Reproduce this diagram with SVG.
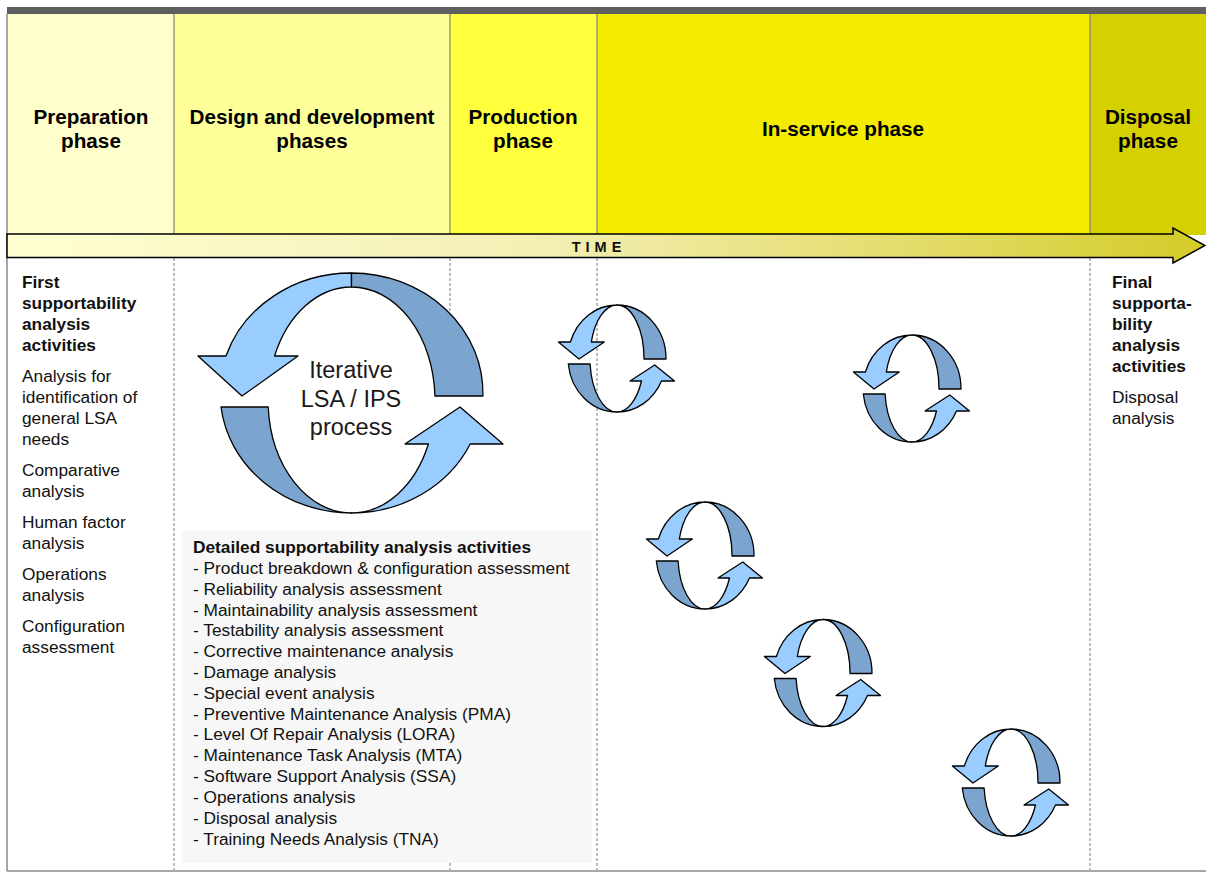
<svg xmlns="http://www.w3.org/2000/svg" width="1206" height="873" viewBox="0 0 1206 873">
  <defs>
    <linearGradient id="timeFill" x1="0" y1="0" x2="1" y2="0">
      <stop offset="0" stop-color="#FFFFD2"/>
      <stop offset="0.45" stop-color="#F3EFB4"/>
      <stop offset="0.75" stop-color="#E4DC6C"/>
      <stop offset="1" stop-color="#D3CC28"/>
    </linearGradient>
    <!-- small twisted-ribbon cycle, drawn around its own centre -->
    <g id="cycle">
      <path class="light" d="M0,-53.5 A49,53.5 0 0 0 -46.6,-16.5 L-58.6,-16.5 L-38,0.5 L-12.7,-16.5 L-25.7,-16.5 A27,53.5 0 0 1 0,-53.5 Z"/>
      <path class="dark" d="M0,-53.5 A49,53.5 0 0 1 49,0.5 L27,0.5 A27,53.5 0 0 0 0,-53.5 Z"/>
      <path class="dark" d="M-48.7,5.5 A49,53.5 0 0 0 0,53.5 A27,53.5 0 0 1 -26.9,5.5 Z"/>
      <path class="light" d="M0,53.5 A49,53.5 0 0 0 44.5,22.5 L57.5,22.5 L37.7,6.5 L13,22.5 L24.5,22.5 A27,53.5 0 0 1 0,53.5 Z"/>
    </g>
  </defs>
  <style>
    .hdr { font-family: "Liberation Sans", Arial, sans-serif; font-weight: bold; font-size: 20.7px; fill: #000; text-anchor: middle; }
    .txt { font-family: "Liberation Sans", Arial, sans-serif; font-size: 17.3px; fill: #111; }
    .bold { font-weight: bold; }
    .sep { stroke: #8C8C72; stroke-width: 1.3; }
    .dash { stroke: #7A7A7A; stroke-width: 1; stroke-dasharray: 3 2; fill: none; }
    .light { fill: #99CCFF; stroke: #000; stroke-width: 1.3; stroke-linejoin: round; }
    .dark { fill: #7BA5CE; stroke: #000; stroke-width: 1.3; stroke-linejoin: round; }
    .big { font-family: "Liberation Sans", Arial, sans-serif; font-size: 23.5px; fill: #1a1a1a; text-anchor: middle; }
  </style>

  <rect width="1206" height="873" fill="#FFFFFF"/>

  <!-- phase header bands -->
  <g id="phases">
    <rect x="7" y="14" width="167" height="221" fill="#FFFFCC"/>
    <rect x="174" y="14" width="276" height="221" fill="#FFFF99"/>
    <rect x="450" y="14" width="147" height="221" fill="#FFFF3C"/>
    <rect x="597" y="14" width="493" height="221" fill="#F3EC00"/>
    <rect x="1090" y="14" width="116" height="221" fill="#D5D000"/>
    <rect x="7" y="7" width="1199" height="7" fill="#5F5F5F"/>
    <line class="sep" x1="174" y1="14" x2="174" y2="234"/>
    <line class="sep" x1="450" y1="14" x2="450" y2="234"/>
    <line class="sep" x1="597" y1="14" x2="597" y2="234"/>
    <line class="sep" x1="1090" y1="14" x2="1090" y2="234"/>
  </g>
  <g id="phase-preparation"><text class="hdr" x="91" y="124">Preparation</text><text class="hdr" x="91" y="148">phase</text></g>
  <g id="phase-design"><text class="hdr" x="312" y="124">Design and development</text><text class="hdr" x="312" y="148">phases</text></g>
  <g id="phase-production"><text class="hdr" x="523" y="124">Production</text><text class="hdr" x="523" y="148">phase</text></g>
  <g id="phase-inservice"><text class="hdr" x="843" y="136">In-service phase</text></g>
  <g id="phase-disposal"><text class="hdr" x="1148" y="124">Disposal</text><text class="hdr" x="1148" y="148">phase</text></g>

  <!-- frame and phase boundaries below the time axis -->
  <g id="frame">
    <line x1="7" y1="14" x2="7" y2="871" stroke="#8A8A8A" stroke-width="1.5"/>
    <line x1="7" y1="871" x2="1206" y2="871" stroke="#8A8A8A" stroke-width="1.5"/>
    <line class="dash" x1="174" y1="258" x2="174" y2="870"/>
    <line class="dash" x1="450" y1="258" x2="450" y2="870"/>
    <line class="dash" x1="597" y1="258" x2="597" y2="870"/>
    <line class="dash" x1="1090" y1="258" x2="1090" y2="870"/>
  </g>

  <!-- time axis -->
  <g id="time-axis">
    <path d="M7,234 L1173,234 L1173,228 L1205,245.5 L1173,263 L1173,257.5 L7,257.5 Z" fill="url(#timeFill)" stroke="#000" stroke-width="1.5" stroke-linejoin="miter"/>
    <text x="599" y="252" font-family="Liberation Sans, Arial, sans-serif" font-weight="bold" font-size="14.5px" letter-spacing="5" text-anchor="middle" fill="#111">TIME</text>
  </g>

  <!-- first activities column -->
  <g id="first-activities" class="txt">
    <text class="bold" x="22" y="288">First</text>
    <text class="bold" x="22" y="309">supportability</text>
    <text class="bold" x="22" y="330">analysis</text>
    <text class="bold" x="22" y="351">activities</text>
    <text x="22" y="382">Analysis for</text>
    <text x="22" y="403">identification of</text>
    <text x="22" y="424">general LSA</text>
    <text x="22" y="445">needs</text>
    <text x="22" y="476">Comparative</text>
    <text x="22" y="497">analysis</text>
    <text x="22" y="528">Human  factor</text>
    <text x="22" y="549">analysis</text>
    <text x="22" y="580">Operations</text>
    <text x="22" y="601">analysis</text>
    <text x="22" y="632">Configuration</text>
    <text x="22" y="653">assessment</text>
  </g>

  <!-- final activities column -->
  <g id="final-activities" class="txt">
    <text class="bold" x="1112" y="288">Final</text>
    <text class="bold" x="1112" y="309">supporta-</text>
    <text class="bold" x="1112" y="330">bility</text>
    <text class="bold" x="1112" y="351">analysis</text>
    <text class="bold" x="1112" y="372">activities</text>
    <text x="1112" y="403">Disposal</text>
    <text x="1112" y="424">analysis</text>
  </g>

  <!-- main iterative cycle -->
  <g id="iterative-cycle">
    <rect x="196" y="311" width="312" height="220" fill="#FFFFFF"/>
    <path class="light" d="M351.5,273 A131.5,120 0 0 0 226,356 L198,356 L242,396 L298,356 L274.6,356 A83.5,113 0 0 1 351.5,287 Z"/>
    <path class="dark" d="M351.5,273 A131.5,120 0 0 1 482.9,396 L434.9,396 A83.5,113 0 0 0 351.5,287 Z"/>
    <path class="dark" d="M221,407 A131.5,120 0 0 0 351.5,513 A83.5,113 0 0 1 268.2,407 Z"/>
    <path class="light" d="M351.5,513 A131.5,120 0 0 0 470.2,444 L503,444 L460,407 L405,444 L428.4,444 A83.5,113 0 0 1 351.5,513 Z"/>
    <text class="big" x="351" y="378">Iterative</text>
    <text class="big" x="351" y="407">LSA / IPS</text>
    <text class="big" x="351" y="435">process</text>
  </g>

  <!-- detailed activities list -->
  <g id="detailed-activities" class="txt">
    <rect x="182" y="531" width="410" height="332" fill="#F7F7F7"/>
    <text class="bold" x="193" y="553">Detailed supportability analysis activities</text>
    <text x="193" y="574">- Product breakdown &amp; configuration assessment</text>
    <text x="193" y="595">- Reliability analysis assessment</text>
    <text x="193" y="616">- Maintainability analysis assessment</text>
    <text x="193" y="636">- Testability analysis assessment</text>
    <text x="193" y="657">- Corrective maintenance analysis</text>
    <text x="193" y="678">- Damage analysis</text>
    <text x="193" y="699">- Special event analysis</text>
    <text x="193" y="720">- Preventive Maintenance Analysis (PMA)</text>
    <text x="193" y="740">- Level Of Repair Analysis (LORA)</text>
    <text x="193" y="761">- Maintenance Task Analysis (MTA)</text>
    <text x="193" y="782">- Software Support Analysis (SSA)</text>
    <text x="193" y="803">- Operations analysis</text>
    <text x="193" y="824">- Disposal analysis</text>
    <text x="193" y="845">- Training Needs Analysis (TNA)</text>
  </g>

  <!-- in-service cycles -->
  <use id="cycle-1" href="#cycle" x="617" y="358.5"/>
  <use id="cycle-2" href="#cycle" x="912" y="388.5"/>
  <use id="cycle-3" href="#cycle" x="705" y="555.5"/>
  <use id="cycle-4" href="#cycle" x="823" y="673"/>
  <use id="cycle-5" href="#cycle" x="1011" y="782.5"/>
</svg>
